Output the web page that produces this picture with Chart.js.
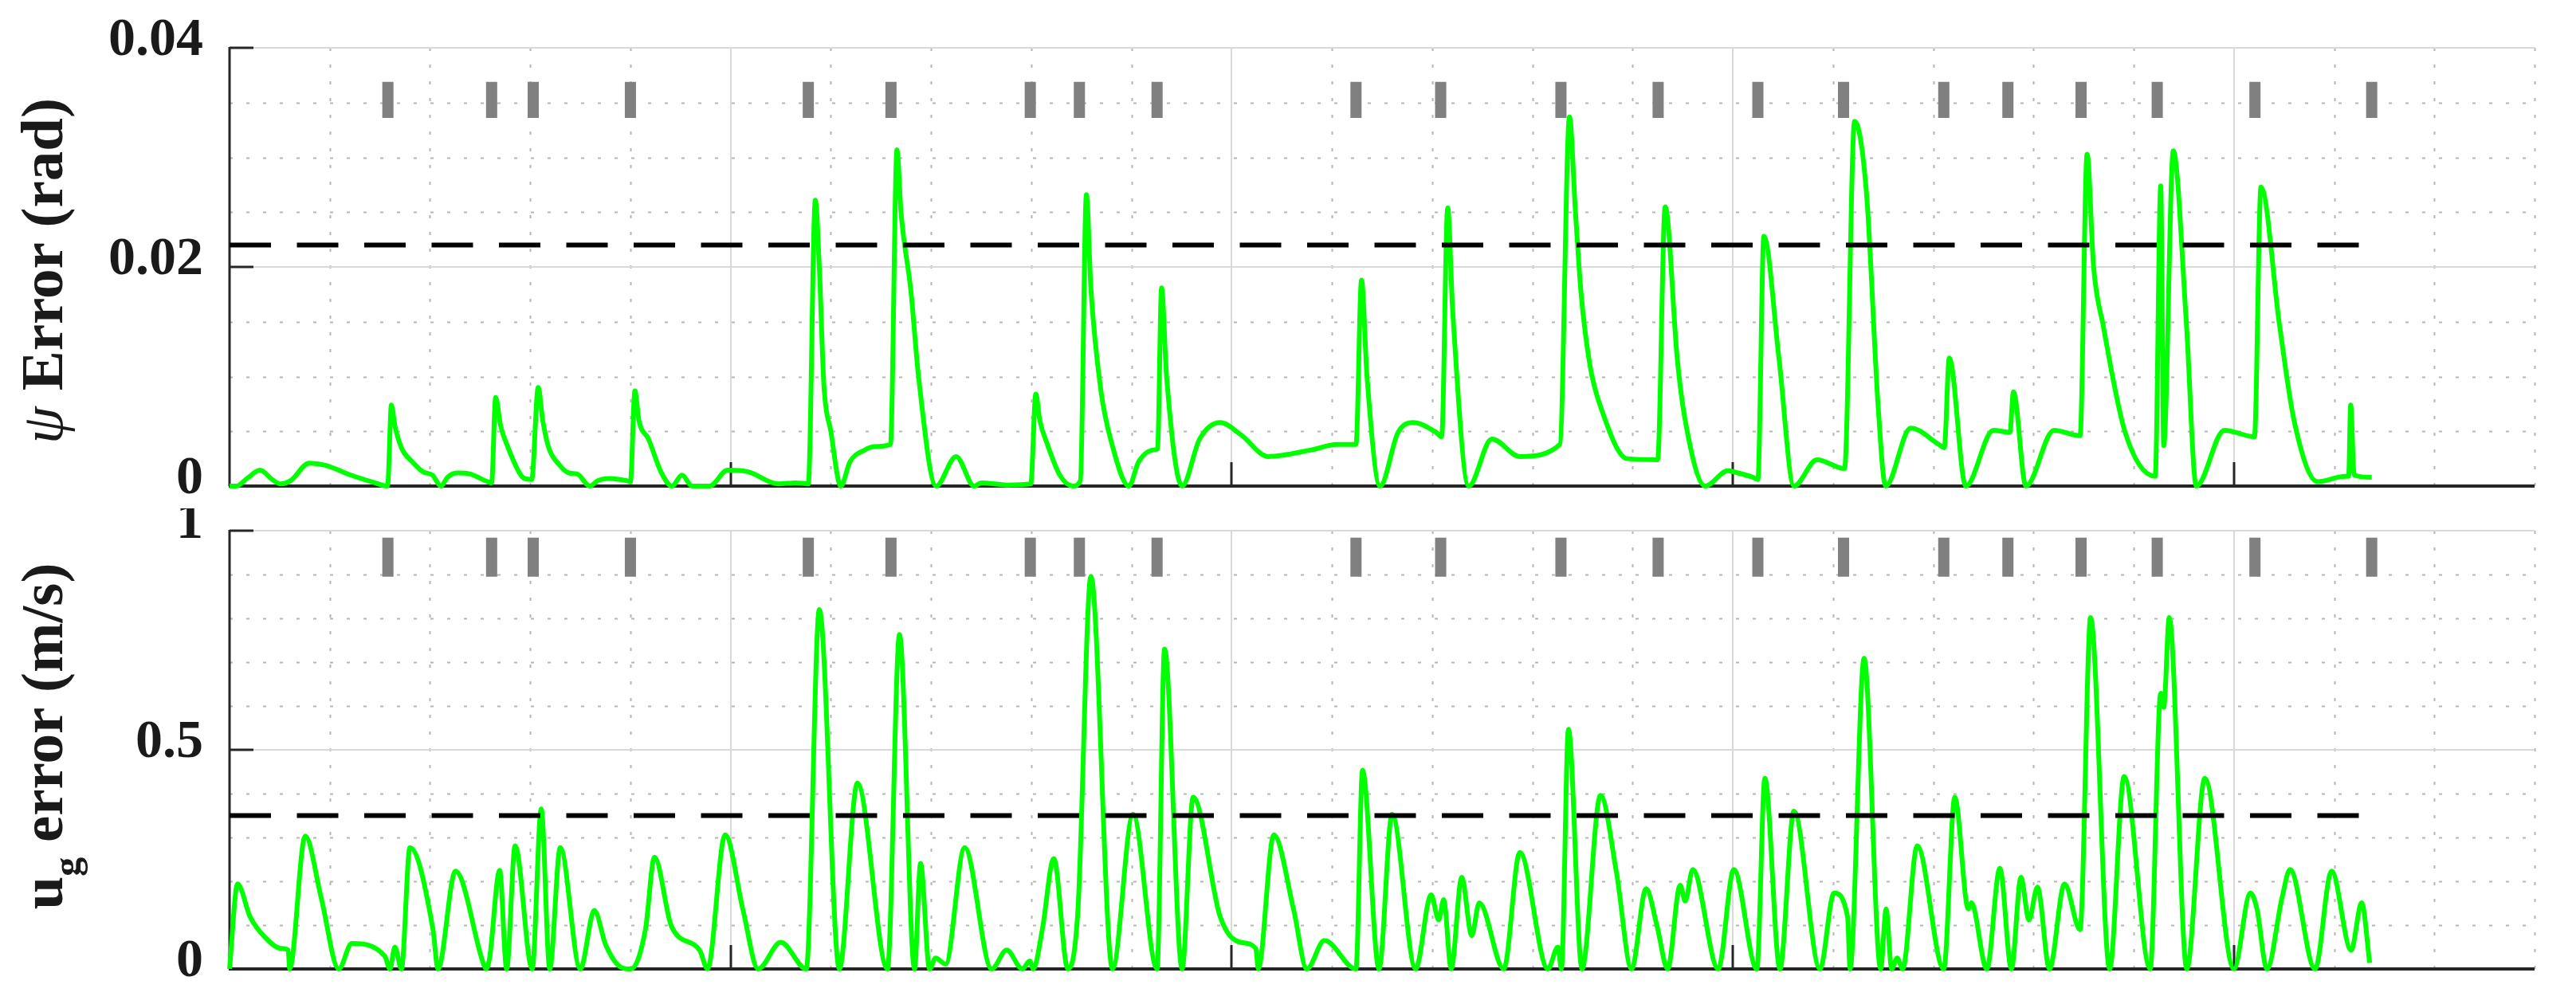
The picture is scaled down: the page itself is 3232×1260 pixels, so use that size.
<!DOCTYPE html>
<html><head><meta charset="utf-8">
<script src="https://cdn.jsdelivr.net/npm/chart.js@4.4.1/dist/chart.umd.min.js"></script>
<style>
html,body{margin:0;padding:0;background:#fff;}
#wrap{position:relative;width:3232px;height:1260px;background:#fff;}
#c1{position:absolute;left:0;top:0;}
#c2{position:absolute;left:0;top:638px;}
</style></head><body>
<div id="wrap"><canvas id="c1" width="3232" height="638"></canvas><canvas id="c2" width="3232" height="622"></canvas></div>
<script>
// ---- data ----
const psiT = [0,1.4,3.5,6.1,8.5,10.2,12.2,15.9,19.1,24.2,29.0,31.4,31.6,32.3,33.0,34.4,36.5,38.6,40.5,42.2,43.5,45.4,48.0,51.5,52.3,53.1,54.1,55.6,57.5,58.5,60.3,61.6,62.5,63.7,65.7,67.7,69.4,71.9,73.5,75.8,79.2,80.0,80.9,81.7,83.6,86.2,88.3,90.3,92.3,95.8,99.4,103.5,109.5,113.0,115.5,116.9,117.7,118.6,120.0,122.0,123.8,126.8,128.6,131.9,133.2,134.0,136.0,137.5,141.0,145.0,148.6,150.0,155.2,159.9,160.9,161.7,163.3,165.7,168.3,169.8,171.0,171.9,173.9,176.0,179.5,181.4,184.5,185.2,186.0,187.0,190.1,193.6,197.7,201.8,207.3,215.9,221.0,224.8,225.9,227.0,229.6,233.2,236.2,240.8,241.9,243.1,244.1,247.3,251.9,257.5,265.5,267.4,268.6,269.7,271.5,273.8,278.9,285.0,286.5,288.9,290.5,294.5,299.0,301.0,304.0,305.0,306.2,309.2,312.2,316.8,322.3,324.3,326.7,329.0,330.5,335.5,341.1,342.2,343.2,346.5,352.0,355.3,356.0,358.5,364.1,369.3,370.7,372.0,373.9,378.3,384.3,385.4,386.0,387.9,390.5,392.5,398.1,404.1,405.4,409.1,412.0,416.7,422.2,422.9,423.3,424.0,427.5];
const psiV = [0,0,0.0007,0.00145,0.0006,0.0002,0.0005,0.0021,0.0019,0.0010,0.0003,0,0.0002,0.0074,0.0055,0.0034,0.0022,0.0013,0.0010,0,0.0008,0.0012,0.0011,0.0004,0.0003,0.0081,0.0055,0.0035,0.0015,0.0008,0.0006,0.0090,0.0060,0.0035,0.0020,0.0012,0.0011,0,0.0005,0.0007,0.0005,0.0004,0.0087,0.0060,0.0043,0.0012,0,0.0010,0,0,0.00145,0.0013,0.0002,0.0003,0.0002,0.0261,0.0200,0.0093,0.0050,0,0.0022,0.0033,0.0036,0.0038,0.0307,0.0250,0.0177,0.0100,0,0.0027,0,0.0003,0.0001,0.0002,0.0084,0.0060,0.0037,0.0010,0,0.0005,0.0266,0.0180,0.0087,0.0040,0,0.0022,0.0033,0.0034,0.0181,0.0100,0,0.0043,0.0058,0.0047,0.0027,0.0033,0.0038,0.0038,0.0188,0.0100,0,0.0049,0.0058,0.0049,0.0045,0.0254,0.0160,0,0.0043,0.0027,0.0038,0.0337,0.0250,0.0177,0.0110,0.0070,0.0025,0.0024,0.0255,0.0117,0.0060,0,0.0014,0.0012,0.0008,0.0006,0.0228,0.0117,0,0.0024,0.0016,0.0333,0.0266,0.0073,0,0.0053,0.0038,0.0035,0.0117,0,0.0051,0.0049,0.0086,0,0.0051,0.0046,0.0303,0.0200,0.0147,0.0049,0.0009,0.0274,0.0037,0.0306,0.0150,0,0.0051,0.0045,0.0273,0.0147,0.0060,0.0004,0.0009,0.0009,0.0074,0.0010,0.0008];
const ugT = [0,1.6,4.1,7.1,10.2,11.7,12.0,15.1,18.3,21.8,24.4,31.0,32.0,33.0,34.3,36.0,40.6,41.6,45.1,50.7,51.2,51.9,53.9,55.3,57.0,60.4,62.2,63.9,66.0,70.0,72.8,75.1,78.1,80.1,83.0,84.8,88.2,93.8,95.4,98.9,102.5,105.5,110.0,115.1,117.7,121.7,125.3,131.3,133.7,136.7,137.9,139.7,140.9,142.9,146.7,152.1,155.1,158.2,159.7,160.4,162.2,164.5,167.3,169.3,171.9,176.2,180.3,185.1,186.6,190.1,192.3,197.7,201.7,204.8,205.3,208.4,212.4,215.0,218.5,224.8,226.1,229.4,232.0,236.7,239.8,241.3,242.3,243.8,245.9,247.9,249.4,254.3,257.5,263.1,265.1,265.8,267.2,269.9,273.6,276.8,279.8,282.7,284.9,287.0,289.5,290.5,292.0,297.1,300.2,304.8,306.4,309.4,312.2,317.4,320.2,322.9,323.4,326.2,329.5,330.6,331.7,332.8,333.9,336.8,342.1,344.3,347.0,347.6,350.7,353.3,355.6,357.5,359.1,360.8,363.2,366.2,369.3,371.4,375.2,378.1,383.3,385.4,386.0,387.1,390.6,394.2,400.0,403.3,404.6,406.6,409.6,411.2,416.2,419.5,423.4,425.5,427.1];
const ugV = [0,0.194,0.119,0.072,0.047,0.043,0,0.303,0.162,0,0.058,0.029,0,0.050,0,0.277,0.090,0,0.223,0.011,0,0.025,0.225,0,0.281,0,0.365,0,0.277,0,0.133,0.054,0.004,0,0.090,0.255,0.097,0.043,0,0.306,0.133,0,0.061,0,0.820,0,0.424,0,0.763,0,0.241,0,0.025,0.011,0.277,0,0.043,0,0.018,0,0.090,0.252,0,0.133,0.896,0,0.353,0,0.730,0,0.392,0.119,0.061,0.047,0,0.306,0.133,0,0.065,0,0.453,0,0.353,0,0.169,0.112,0.158,0,0.209,0.076,0.151,0,0.266,0,0.050,0,0.547,0,0.396,0.219,0,0.183,0.097,0,0.191,0.155,0.227,0,0.227,0,0.435,0,0.360,0,0.173,0.119,0,0.709,0,0.137,0,0.025,0,0.281,0,0.392,0.137,0.151,0,0.230,0,0.209,0.112,0.187,0,0.194,0.090,0.802,0,0.439,0,0.629,0.597,0.802,0,0.435,0,0.173,0.137,0,0.162,0.227,0,0.223,0.043,0.151,0.014];
const eventTimes = [31.6,52.3,60.6,80.0,115.5,132.0,159.8,169.6,185.1,224.8,241.7,265.7,285.1,305.0,322.1,342.1,354.9,369.5,384.7,404.2,427.5];
const psiThreshold = 0.022;
const ugThreshold = 0.35;
const thresholdEnd = 427.5;
const psiEventBar = [0.0336, 0.0369];
const ugEventBar = [0.895, 0.984];
const xRange = [0, 460];
const xMajorStep = 100, xMinorStep = 20;
const psiRange = [0, 0.04], psiMajorStep = 0.02, psiMinorStep = 0.005;
const ugRange = [0, 1], ugMajorStep = 0.5, ugMinorStep = 0.1;

// ---- styling ----
const GREEN = '#00ff00', AXIS = '#262626', MAJOR = '#d9d9d9', MINOR = '#b5b5b5';
const FONT = "'Liberation Serif', 'DejaVu Serif', serif";

function pts(xs, ys){ return xs.map((x,i)=>({x:x, y:ys[i]})); }
function barPts(times, lohi){
  const out=[];
  times.forEach(t=>{ out.push({x:t,y:lohi[0]}); out.push({x:t,y:lohi[1]}); out.push({x:t,y:null}); });
  return out;
}

const gridPlugin = {
  id: 'matlabGrid',
  beforeDatasetsDraw(chart, args, o){
    const {ctx, chartArea:a, scales:{x, y}} = chart;
    ctx.save();
    function ln(x1,y1,x2,y2){ ctx.beginPath(); ctx.moveTo(x1,y1); ctx.lineTo(x2,y2); ctx.stroke(); }
    ctx.strokeStyle = MINOR; ctx.lineWidth = 2; ctx.setLineDash([4,17]);
    const nx = Math.round((xRange[1]-xRange[0])/xMinorStep);
    const ratio = Math.round(xMajorStep/xMinorStep);
    for(let i=1;i<=nx;i++){ if(i%ratio===0) continue; const px=Math.round(x.getPixelForValue(xRange[0]+i*xMinorStep))+0.5; ln(px,a.bottom,px,a.top); }
    const ny = Math.round((o.max-o.min)/o.minor);
    const ry = Math.round(o.major/o.minor);
    for(let i=1;i<ny;i++){ if(i%ry===0) continue; const py=Math.round(y.getPixelForValue(o.min+i*o.minor))+0.5; ln(a.left,py,a.right,py); }
    ctx.setLineDash([]); ctx.strokeStyle = MAJOR; ctx.lineWidth = 2;
    const nmx = Math.floor((xRange[1]-xRange[0])/xMajorStep + 1e-9);
    for(let i=1;i<=nmx;i++){ const px=Math.round(x.getPixelForValue(xRange[0]+i*xMajorStep)); ln(px,a.bottom,px,a.top); }
    const nmy = Math.round((o.max-o.min)/o.major);
    for(let i=1;i<=nmy;i++){ const py=Math.round(y.getPixelForValue(o.min+i*o.major)); ln(a.left,py,a.right,py); }
    ctx.strokeStyle = AXIS; ctx.lineWidth = 3;
    ln(a.left, a.top-1, a.left, a.bottom);
    ctx.lineWidth = 4;
    ln(a.left-1, a.bottom, a.right, a.bottom);
    ctx.lineWidth = 3;
    for(let i=1;i<=nmx;i++){ const px=Math.round(x.getPixelForValue(xRange[0]+i*xMajorStep)); ln(px,a.bottom,px,a.bottom-30); }
    for(let i=1;i<=nmy;i++){ const py=Math.round(y.getPixelForValue(o.min+i*o.major)); ln(a.left,py,a.left+30,py); }
    ctx.restore();
  },
  afterDraw(chart, args, o){
    const ctx = chart.ctx;
    ctx.save();
    ctx.translate(o.titleX, o.titleY);
    ctx.rotate(-Math.PI/2);
    ctx.fillStyle = '#1a1a1a';
    ctx.textBaseline = 'alphabetic'; ctx.textAlign = 'left';
    let total = 0;
    o.title.forEach(p=>{ ctx.font = p.font; total += ctx.measureText(p.text).width + (p.gap||0); });
    let cx = -total/2;
    o.title.forEach(p=>{ ctx.font = p.font; ctx.fillText(p.text, cx, p.dy||0); cx += ctx.measureText(p.text).width + (p.gap||0); });
    ctx.restore();
  }
};

function makeChart(id, T, V, range, major, minor, thr, bar, pad, title, titleY){
  return new Chart(document.getElementById(id), {
    type: 'line',
    data: { datasets: [
      { data: [{x:xRange[0], y:thr},{x:thresholdEnd, y:thr}], borderColor:'#000', borderWidth:6, borderDash:[52,32.5], pointRadius:0, clip:false },
      { data: barPts(eventTimes, bar), borderColor:'#808080', borderWidth:14, borderCapStyle:'butt', pointRadius:0, spanGaps:false },
      { data: pts(T, V), borderColor: GREEN, borderWidth:6, pointRadius:0, cubicInterpolationMode:'monotone', borderJoinStyle:'round', clip:8 }
    ]},
    options: {
      responsive:false, animation:false, devicePixelRatio:1,
      layout:{ padding: pad },
      plugins:{ legend:{display:false}, tooltip:{enabled:false},
        matlabGrid:{ min:range[0], max:range[1], major:major, minor:minor, title:title, titleX:78, titleY:titleY } },
      scales:{
        x:{ type:'linear', min:xRange[0], max:xRange[1], display:false },
        y:{ type:'linear', min:range[0], max:range[1],
            grid:{display:false, drawTicks:false}, border:{display:false},
            ticks:{ stepSize:major, padding:33, color:'#1a1a1a', labelOffset:-9,
                    callback: v => String(+Number(v).toFixed(4)),
                    font:{family:FONT, size:68, weight:'bold'} },
            afterFit: s => { s.width = 288; s.paddingTop = 0; s.paddingBottom = 0; } }
      }
    },
    plugins:[gridPlugin]
  });
}

makeChart('c1', psiT, psiV, psiRange, psiMajorStep, psiMinorStep, psiThreshold, psiEventBar,
  {top:60, right:52, bottom:28, left:0},
  [ {text:'\u03C8', font:"italic 75px "+FONT, gap:20}, {text:'Error (rad)', font:"bold 75px "+FONT} ], 340);
makeChart('c2', ugT, ugV, ugRange, ugMajorStep, ugMinorStep, ugThreshold, ugEventBar,
  {top:28, right:52, bottom:44, left:0},
  [ {text:'u', font:"bold 75px "+FONT}, {text:'g', font:"bold 48px "+FONT, dy:22}, {text:' error (m/s)', font:"bold 75px "+FONT} ], 286);
</script>
</body></html>
